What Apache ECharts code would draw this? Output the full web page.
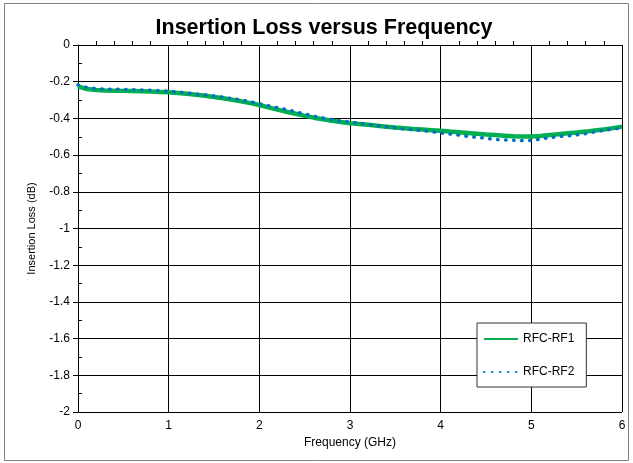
<!DOCTYPE html>
<html>
<head>
<meta charset="utf-8">
<script src="https://cdn.jsdelivr.net/npm/echarts@6/dist/echarts.min.js"></script>
<style>
html,body{margin:0;padding:0;background:#fff;}
#chart{width:633px;height:463px;}
</style>
</head>
<body>
<div id="chart"></div>
<script>
// Frequency (GHz), 0.1 GHz steps
var freq = [];
for (var i = 0; i <= 60; i++) { freq.push(+(i / 10).toFixed(1)); }

var rf1 = [-0.225,-0.240,-0.245,-0.248,-0.249,-0.250,-0.251,-0.252,-0.254,-0.256,
           -0.258,-0.261,-0.266,-0.271,-0.277,-0.283,-0.290,-0.298,-0.307,-0.317,
           -0.327,-0.340,-0.352,-0.364,-0.375,-0.386,-0.396,-0.405,-0.413,-0.420,
           -0.426,-0.430,-0.435,-0.440,-0.445,-0.450,-0.454,-0.458,-0.461,-0.464,
           -0.467,-0.472,-0.476,-0.480,-0.484,-0.488,-0.491,-0.494,-0.497,-0.499,
           -0.499,-0.496,-0.491,-0.486,-0.481,-0.477,-0.472,-0.466,-0.460,-0.453,
           -0.446];
var rf2 = [-0.218,-0.232,-0.238,-0.240,-0.241,-0.242,-0.243,-0.245,-0.247,-0.249,
           -0.252,-0.256,-0.261,-0.267,-0.272,-0.278,-0.285,-0.292,-0.300,-0.309,
           -0.320,-0.331,-0.342,-0.352,-0.364,-0.376,-0.388,-0.398,-0.407,-0.414,
           -0.420,-0.426,-0.432,-0.440,-0.446,-0.452,-0.457,-0.462,-0.467,-0.472,
           -0.479,-0.485,-0.491,-0.498,-0.503,-0.508,-0.515,-0.517,-0.519,-0.521,
           -0.520,-0.513,-0.505,-0.499,-0.495,-0.490,-0.483,-0.473,-0.465,-0.458,
           -0.452];

var seriesNames = ['RFC-RF1', 'RFC-RF2'];
var titleText = 'Insertion Loss versus Frequency';
var xName = 'Frequency (GHz)';
var yName = 'Insertion Loss (dB)';

function pairs(xs, ys) { return xs.map(function (x, i) { return [x, ys[i]]; }); }

var GL = 78, GR = 11, GT = 45, GB = 51;
var font = 'Liberation Sans, Arial, sans-serif';
var chart = echarts.init(document.getElementById('chart'));
chart.setOption({
  animation: false,
  backgroundColor: '#fff',
  title: {
    text: titleText, left: 319, top: 12, textAlign: 'center',
    textStyle: { fontFamily: font, fontSize: 21.5, fontWeight: 'bold', color: '#000' }
  },
  graphic: [{
    type: 'rect', shape: { x: 4.5, y: 3.5, width: 624, height: 457 },
    style: { fill: 'none', stroke: '#808080', lineWidth: 1 }, silent: true, z: -10
  }],
  grid: [
    { left: GL, right: GR, top: GT, bottom: GB, containLabel: false },
    { left: GL, right: GR, top: GT, bottom: GB, containLabel: false }
  ],
  legend: {
    orient: 'vertical', left: 477, top: 323,
    itemWidth: 34, itemHeight: 14, itemGap: 21,
    padding: [10, 12, 9, 6],
    backgroundColor: '#fff', borderColor: '#333', borderWidth: 1,
    itemStyle: { opacity: 0 },
    textStyle: { fontFamily: font, fontSize: 12, color: '#000' },
    data: seriesNames
  },
  xAxis: [{
    type: 'value', gridIndex: 0, min: 0, max: 6, interval: 1, position: 'bottom',
    name: xName, nameLocation: 'middle', nameGap: 25,
    nameTextStyle: { fontFamily: font, fontSize: 12, color: '#000' },
    axisLine: { show: true, lineStyle: { color: '#000', width: 1 } },
    axisTick: { show: true, length: 5, lineStyle: { color: '#000' } },
    axisLabel: { fontFamily: font, fontSize: 12, color: '#000', margin: 8 },
    splitLine: { show: true, lineStyle: { color: '#000', width: 1 } }
  }, {
    type: 'value', gridIndex: 1, min: 0, max: 6, interval: 1, position: 'bottom',
    axisLine: { show: false }, axisLabel: { show: false },
    axisTick: { show: false, inside: true },
    minorTick: { show: true, splitNumber: 5, length: 4, lineStyle: { color: '#000' } },
    splitLine: { show: false }
  }],
  yAxis: [{
    type: 'value', gridIndex: 0, min: -2, max: 0, interval: 0.2, position: 'left',
    name: yName, nameLocation: 'middle', nameGap: 41,
    nameTextStyle: { fontFamily: font, fontSize: 11, color: '#000' },
    axisLine: { show: true, lineStyle: { color: '#000', width: 1 } },
    axisTick: { show: true, length: 5, lineStyle: { color: '#000' } },
    axisLabel: {
      fontFamily: font, fontSize: 12, color: '#000', margin: 8,
      formatter: function (v) { return String(Math.round(v * 10) / 10); }
    },
    splitLine: { show: true, lineStyle: { color: '#000', width: 1 } }
  }, {
    type: 'value', gridIndex: 1, min: -2, max: 0, interval: 0.2, position: 'left',
    axisLine: { show: false }, axisLabel: { show: false },
    axisTick: { show: false, inside: true },
    minorTick: { show: true, splitNumber: 2, length: 4, lineStyle: { color: '#000' } },
    splitLine: { show: false }
  }],
  series: [{
    name: seriesNames[0], type: 'line', xAxisIndex: 0, yAxisIndex: 0,
    data: pairs(freq, rf1), symbol: 'none', smooth: false,
    itemStyle: { color: '#00B050' },
    lineStyle: { color: '#00B050', width: 4.5 }, z: 3
  }, {
    name: seriesNames[1], type: 'line', xAxisIndex: 0, yAxisIndex: 0,
    data: pairs(freq, rf2), symbol: 'none', smooth: false,
    itemStyle: { color: '#0070C0' },
    lineStyle: { color: '#0070C0', width: 3.5, type: [0.5, 7.5], cap: 'round' }, z: 4
  }]
});
</script>
</body>
</html>
